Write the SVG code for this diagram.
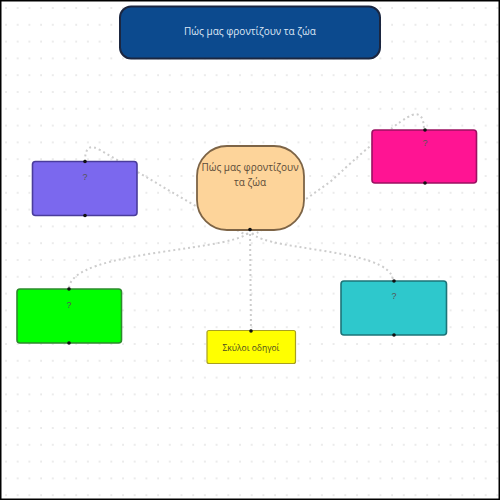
<svg xmlns="http://www.w3.org/2000/svg" width="500" height="500" viewBox="0 0 500 500">
<defs>
<pattern id="dots" x="4" y="6" width="11.7" height="16.8" patternUnits="userSpaceOnUse">
<circle cx="2" cy="2" r="0.9" fill="#e2e2e2"/>
</pattern>
<style>
.conn{fill:none;stroke:#cdcdcd;stroke-width:2;stroke-dasharray:2 3}
.box{stroke-width:1.6}
.q{font-family:"Liberation Sans",Arial,sans-serif;font-size:9px;fill:#555;text-anchor:middle}
.pt{fill:#111}
.lbl{font-family:"Open Sans","Liberation Sans",sans-serif;text-anchor:middle}
</style>
</defs>
<rect x="0" y="0" width="500" height="500" fill="#ffffff"/>
<rect x="0" y="0" width="500" height="500" fill="url(#dots)"/>
<rect x="0.75" y="0.75" width="498.5" height="498.5" fill="none" stroke="#000" stroke-width="1.5"/>

<g id="connectors">
<path class="conn" d="M250,229 Q250,237 240,232 L100,150 Q85,141 85,161"/>
<path class="conn" d="M250,229 Q250,238 262,230 L330,182 Q395,122 412,115 Q424,111 424,130"/>
<path class="conn" d="M250,229 C250,252 69,248 69,289"/>
<path class="conn" d="M250,229 C250,252 393,246 393,281"/>
<path class="conn" d="M250,229 L251,331"/>
</g>

<g id="title">
<rect x="120" y="6.5" width="260" height="52" rx="11" fill="#0c4a8e" stroke="#1b2640" stroke-width="2"/>
<text class="lbl" x="250" y="35" font-size="10" fill="#dfe8f5">Πώς μας φροντίζουν τα ζώα</text>
</g>

<g id="center">
<rect x="197" y="146" width="107" height="84" rx="30" fill="#fdd49a" stroke="#7d6446" stroke-width="1.8"/>
<text class="lbl" x="250" y="171" font-size="10" fill="#5a4a38">Πώς μας φροντίζουν</text>
<text class="lbl" x="250" y="186" font-size="10" fill="#5a4a38">τα ζώα</text>
<circle class="pt" cx="250" cy="229.5" r="1.8"/>
</g>

<g id="purple">
<rect x="32.5" y="161.5" width="104.5" height="54" rx="3" fill="#7b68ee" stroke="#4a3c9c" class="box"/>
<text class="q" x="85" y="180">?</text>
<circle class="pt" cx="85" cy="161.5" r="1.8"/>
<circle class="pt" cx="85" cy="215.5" r="1.8"/>
</g>

<g id="pink">
<rect x="372" y="130" width="104.5" height="53" rx="3" fill="#ff1493" stroke="#9c1062" class="box"/>
<text class="q" x="425" y="146">?</text>
<circle class="pt" cx="425" cy="130" r="1.8"/>
<circle class="pt" cx="425" cy="183" r="1.8"/>
</g>

<g id="green">
<rect x="17" y="289" width="104.5" height="54" rx="3" fill="#00ff00" stroke="#2c8a2c" class="box"/>
<text class="q" x="69" y="308">?</text>
<circle class="pt" cx="69" cy="289" r="1.8"/>
<circle class="pt" cx="69" cy="343" r="1.8"/>
</g>

<g id="cyan">
<rect x="341" y="281" width="105.5" height="54" rx="3" fill="#2ec8cc" stroke="#1d7478" class="box"/>
<text class="q" x="394" y="299">?</text>
<circle class="pt" cx="394" cy="281" r="1.8"/>
<circle class="pt" cx="394" cy="335" r="1.8"/>
</g>

<g id="yellow">
<rect x="207" y="330.5" width="88.5" height="33" rx="2" fill="#ffff00" stroke="#a8a020" stroke-width="1.2"/>
<text class="lbl" x="251" y="351" font-size="8.5" fill="#4a4a20">Σκύλοι οδηγοί</text>
<circle class="pt" cx="251" cy="331" r="1.8"/>
</g>
</svg>
